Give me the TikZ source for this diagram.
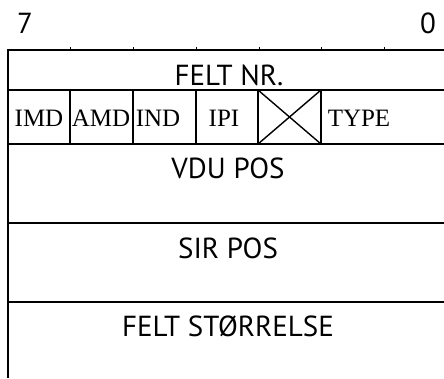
\documentclass[tikz,border=0pt]{standalone}
\usepackage{fontspec}
\setmainfont{PT Sans}
\newfontfamily\serifrow{Liberation Serif}
\tikzset{
  ln/.style={line width=1.4pt, black},
  lbl/.style={inner sep=0pt, anchor=base, font=\fontsize{29}{32}\selectfont},
  slbl/.style={inner sep=0pt, anchor=base, font=\serifrow\fontsize{25}{28}\selectfont},
}
\begin{document}
\begin{tikzpicture}[x=1pt,y=-1pt]
\useasboundingbox (0,0) rectangle (444,378);
% corner coordinates
\coordinate (tl) at (8,50);
\coordinate (tr) at (444,50);
\coordinate (bl) at (8,378);
\coordinate (r1l) at (8,90);  \coordinate (r1r) at (444,90);
\coordinate (r2l) at (8,144); \coordinate (r2r) at (444,144);
\coordinate (r3l) at (8,223); \coordinate (r3r) at (444,223);
\coordinate (r4l) at (8,302); \coordinate (r4r) at (444,302);
\draw[ln] (tr) -- (tl) -- (bl);
\draw[ln] (r1l) -- (r1r);
\draw[ln] (r2l) -- (r2r);
\draw[ln] (r3l) -- (r3r);
\draw[ln] (r4l) -- (r4r);
% ticks on top
\foreach \x in {70,133,196,259,321,384}{
  \coordinate (t\x) at (\x,50);
  \coordinate (u\x) at (\x,47);
  \draw[ln, line width=1pt] (t\x) -- (u\x);
}
% row 2 dividers
\foreach \x/\n in {70/a,133/b,196/c,258/d,321/e}{
  \coordinate (p\n) at (\x,90);
  \coordinate (q\n) at (\x,144);
  \draw[ln] (p\n) -- (q\n);
}
\draw[ln] (pd) -- (qe);
\draw[ln] (pe) -- (qd);
% bit numbers
\node[lbl] (b7) at (25,33) {7};
\node[lbl] (b0) at (428,33) {0};
% texts
\node[lbl] (feltnr) at (229,85) {FELT NR.};
\node[slbl] (imd) at (39,126) {IMD};
\node[slbl] (amd) at (101,126) {AMD};
\node[slbl] (ind) at (158,126) {IND};
\node[slbl] (ipi) at (224,126) {IPI};
\node[slbl] (type) at (359,126) {TYPE};
\node[lbl] (vdu) at (228,178) {VDU POS};
\node[lbl] (sir) at (228,258) {SIR POS};
\node[lbl] (felt) at (228,336) {FELT STØRRELSE};
\end{tikzpicture}
\end{document}
